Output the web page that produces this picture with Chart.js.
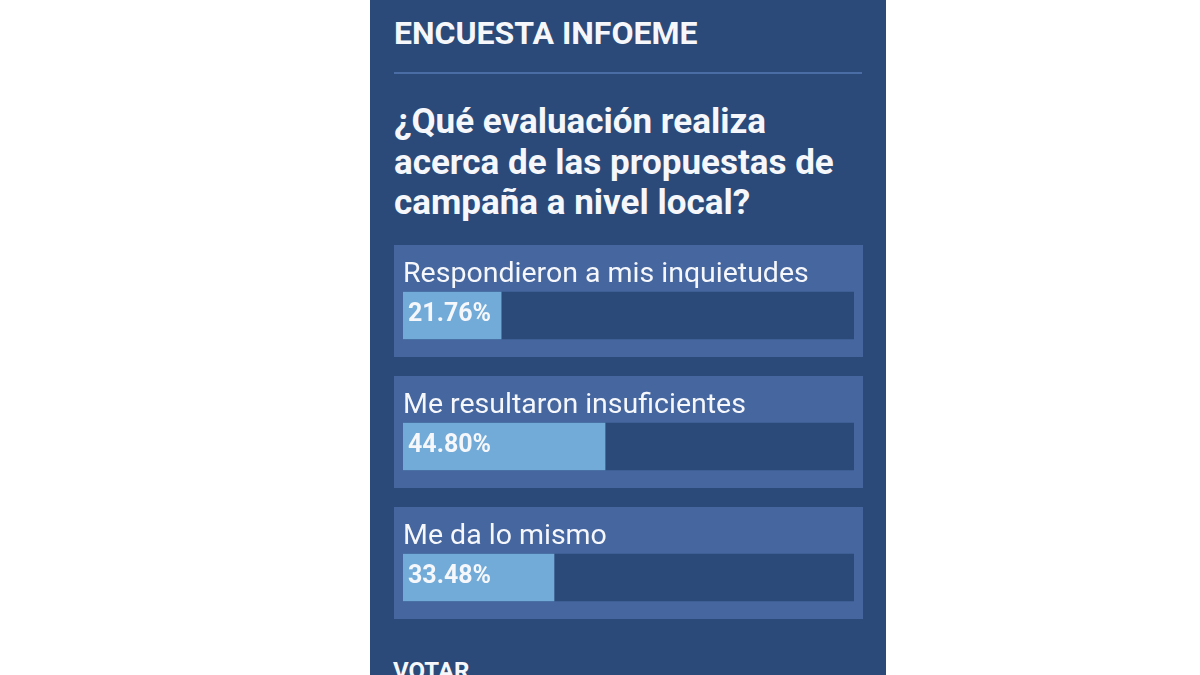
<!DOCTYPE html>
<html>
<head>
<meta charset="utf-8">
<script src="https://cdn.jsdelivr.net/npm/chart.js@4.4.0/dist/chart.umd.min.js"></script>
<style>
  html, body { margin: 0; padding: 0; background: #ffffff; width: 1200px; height: 675px; overflow: hidden; }
  #panel { position: absolute; left: 370px; top: 0; width: 516px; height: 675px; background: #2b4a79; font-family: Roboto, "Noto Sans", sans-serif; color: #f5f7fb; }
  #title { position: absolute; left: 24px; top: 14px; font-size: 32px; font-weight: 700; white-space: nowrap; }
  #sep { position: absolute; left: 24px; top: 72px; width: 468px; height: 2px; background: #4a6da5; }
  #question { position: absolute; left: 24px; top: 102px; font-size: 35px; font-weight: 700; line-height: 40.5px; white-space: nowrap; }
  #vote { position: absolute; left: 23px; top: 657px; font-size: 24px; font-weight: 700; }
  #pollChart { position: absolute; left: 24px; top: 240px; }
</style>
</head>
<body>
<div id="panel">
  <div id="title">ENCUESTA INFOEME</div>
  <div id="sep"></div>
  <div id="question">¿Qué evaluación realiza<br>acerca de las propuestas de<br>campaña a nivel local?</div>
  <canvas id="pollChart" width="469" height="403"></canvas>
  <div id="vote">VOTAR</div>
</div>
<script>
// poll answers and results (percent)
const answers = ["Respondieron a mis inquietudes", "Me resultaron insuficientes", "Me da lo mismo"];
const results = [21.76, 44.80, 33.48];
const fullTrack = [100, 100, 100];

const boxColor = "#4666a0";
const trackColor = "#2b4a79";
const fillColor = "#72aad8";
const textColor = "#f5f7fb";

// draws the lighter box, the answer label and the percent text for each bar
const pollBoxes = {
    id: "pollBoxes",
    beforeDatasetsDraw(chart) {
        const ctx = chart.ctx;
        const meta = chart.getDatasetMeta(0);
        ctx.save();
        meta.data.forEach((bar, i) => {
            ctx.fillStyle = boxColor;
            ctx.fillRect(0, bar.y - 70.5, chart.width, 112);
            ctx.fillStyle = textColor;
            ctx.font = "400 28.5px Roboto, 'Noto Sans', sans-serif";
            ctx.textBaseline = "alphabetic";
            ctx.fillText(answers[i], chart.chartArea.left, bar.y - 33.5);
        });
        ctx.restore();
    },
    afterDatasetsDraw(chart) {
        const ctx = chart.ctx;
        const meta = chart.getDatasetMeta(0);
        ctx.save();
        meta.data.forEach((bar, i) => {
            ctx.fillStyle = textColor;
            ctx.font = "700 25px Roboto, 'Noto Sans', sans-serif";
            ctx.textBaseline = "alphabetic";
            ctx.fillText(results[i].toFixed(2) + "%", chart.chartArea.left + 5, bar.y + 5);
        });
        ctx.restore();
    }
};

new Chart(document.getElementById("pollChart"), {
    type: "bar",
    data: {
        labels: answers,
        datasets: [
            { data: results, backgroundColor: fillColor, order: 0, grouped: false, barThickness: 47 },
            { data: fullTrack, backgroundColor: trackColor, order: 1, grouped: false, barThickness: 47 }
        ]
    },
    options: {
        indexAxis: "y",
        responsive: false,
        animation: false,
        layout: { padding: { left: 9, right: 9, top: 10, bottom: 0 } },
        scales: {
            x: { min: 0, max: 100, display: false },
            y: { display: false }
        },
        plugins: {
            legend: { display: false },
            tooltip: { enabled: false }
        }
    },
    plugins: [pollBoxes]
});
</script>
</body>
</html>
